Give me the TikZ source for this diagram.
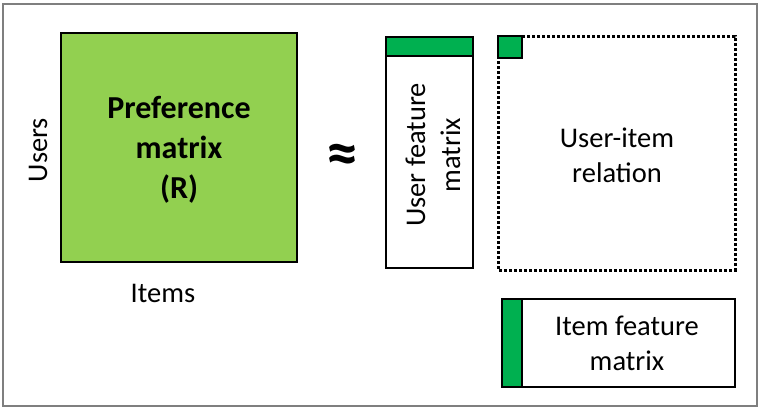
\documentclass[tikz,border=0pt]{standalone}
\usepackage{fontspec}
\setmainfont{Carlito}
\definecolor{prefgreen}{HTML}{92D050}
\definecolor{featgreen}{HTML}{00B050}
\definecolor{framegray}{HTML}{7F7F7F}
\tikzset{
  box/.style={draw=black, line width=2.5pt},
  lbl/.style={font=\fontsize{28.5}{35}\selectfont, align=center, inner sep=0pt},
  boldlbl/.style={font=\fontsize{32}{40}\selectfont\bfseries, align=center, inner sep=0pt},
}
\begin{document}
\begin{tikzpicture}[x=1pt,y=-1pt]
	\useasboundingbox (0,0) rectangle (762,410);
	%frame
	\draw[framegray, line width=2pt] (3,4) rectangle (757,406);
	%preference matrix
	\draw[box, fill=prefgreen] (61,33) rectangle (297,262);
	\node[boldlbl] (pref) at (179,150) {Preference\\matrix\\(R)};
	\node[lbl, rotate=90] (users) at (38,150) {Users};
	\node[lbl] (items) at (163,293) {Items};
	%approx
	\node[font=\fontsize{64}{64}\selectfont\bfseries, inner sep=0pt] (approx) at (342,159) {≈};
	%user feature matrix
	\draw[box] (386,37) rectangle (473,268);
	\draw[box, fill=featgreen] (386,37) rectangle (473,56);
	\node[lbl, rotate=90] (userfeat) at (433,155) {User feature\\matrix};
	%user-item relation
	\draw[black, line width=3pt, dash pattern=on 2.6pt off 2.4pt] (498,36) rectangle (735,270);
	\draw[box, fill=featgreen] (498,36) rectangle (522,58);
	\node[lbl] (relation) at (617,155) {User-item\\relation};
	%item feature matrix
	\draw[box] (502,299) rectangle (735,387);
	\draw[box, fill=featgreen] (502,299) rectangle (522,387);
	\node[lbl] (itemfeat) at (627,343) {Item feature\\matrix};
\end{tikzpicture}
\end{document}
